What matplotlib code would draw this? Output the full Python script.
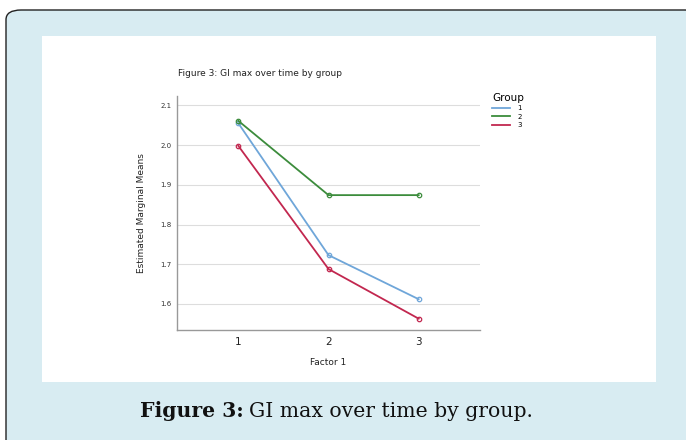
import matplotlib
matplotlib.use("Agg")
import matplotlib.pyplot as plt
from matplotlib.lines import Line2D
from matplotlib.patches import FancyBboxPatch, Rectangle

# data
factor_levels = [1, 2, 3]
group_names = ["1", "2", "3"]
group1 = [2.055, 1.723, 1.612]
group2 = [2.061, 1.874, 1.874]
group3 = [1.998, 1.688, 1.563]
y_ticks = [1.6, 1.7, 1.8, 1.9, 2.0, 2.1]

colors = ["#6fa6d9", "#3c8c3c", "#c2274f"]

W, H = 686, 440
fig = plt.figure(figsize=(W / 100, H / 100), dpi=100)
fig.patch.set_facecolor("white")


def fx(px):
    return px / W


def fy(py):
    return 1 - py / H


# light blue rounded frame with white inner panel
frame = FancyBboxPatch((fx(6), fy(450)), fx(700 - 6), (450 - 10) / H,
                       boxstyle="round,pad=0,rounding_size=0.022",
                       transform=fig.transFigure, facecolor="#d8ecf2",
                       edgecolor="#222222", linewidth=1.0, zorder=0)
fig.patches.append(frame)
panel = Rectangle((fx(42), fy(382)), fx(656 - 42), (382 - 36) / H,
                  transform=fig.transFigure, facecolor="white",
                  edgecolor="none", zorder=1)
fig.patches.append(panel)

ax = fig.add_axes([fx(177), fy(330), fx(480 - 177), (330 - 96) / H])
ax.set_zorder(2)
ax.patch.set_alpha(0)

for vals, name, c in zip([group1, group2, group3], group_names, colors):
    ax.plot(factor_levels, vals, color=c, linewidth=1.3, marker="o",
            markersize=3.2, markerfacecolor="none", markeredgewidth=0.9,
            label=name)

ax.set_xlim(0.32, 3.68)
ax.set_ylim(1.5345, 2.1235)
ax.set_yticks(y_ticks)
ax.set_yticklabels([f"{v:.1f}" for v in y_ticks], fontsize=5, color="#333333")
ax.set_xticks(factor_levels)
ax.set_xticklabels([str(v) for v in factor_levels], fontsize=7.5, color="#222222")
ax.tick_params(axis="both", length=0)
ax.tick_params(axis="y", pad=4)
ax.tick_params(axis="x", pad=5)
ax.grid(axis="y", color="#dddddd", linewidth=0.8)
ax.set_axisbelow(True)
for side in ["top", "right"]:
    ax.spines[side].set_visible(False)
for side in ["left", "bottom"]:
    ax.spines[side].set_color("#999999")
    ax.spines[side].set_linewidth(1.0)

ax.set_xlabel("Factor 1", fontsize=6.5, color="#222222", labelpad=8)
ax.set_ylabel("Estimated Marginal Means", fontsize=6.5, color="#222222", labelpad=10)

fig.text(fx(178), fy(74), "Figure 3: GI max over time by group", fontsize=6.5,
         color="#222222", va="center", ha="left", zorder=3)

# legend shows plain line samples
handles = [Line2D([], [], color=c, linewidth=1.3) for c in colors]
leg = ax.legend(handles, group_names, title="Group", loc="upper left",
                bbox_to_anchor=(1.02, 1.04), frameon=False, fontsize=5,
                title_fontsize=7.5, handlelength=2.6, labelspacing=0.35,
                handletextpad=1.0)
leg._legend_box.align = "left"

cap_font = "DejaVu Serif"
t1 = fig.text(fx(140), fy(411), "Figure 3:", fontsize=14.7, fontweight="bold",
              family=cap_font, va="center", ha="left", color="#111111", zorder=3)
fig.canvas.draw()
bb = t1.get_window_extent()
fig.text(bb.x1 / W + fx(5), fy(411), "GI max over time by group.", fontsize=14.7,
         family=cap_font, va="center", ha="left", color="#111111", zorder=3)

fig.savefig("out.png", dpi=100)
